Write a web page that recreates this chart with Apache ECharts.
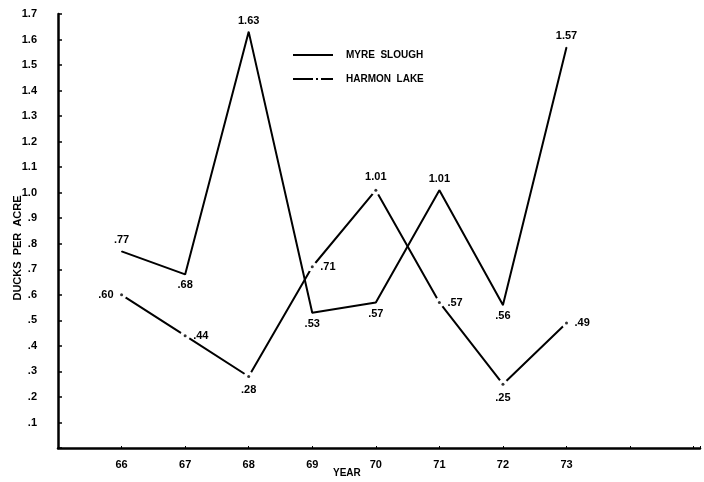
<!DOCTYPE html>
<html><head><meta charset="utf-8">
<script src="https://cdn.jsdelivr.net/npm/echarts@6/dist/echarts.min.js"></script>
<style>html,body{margin:0;padding:0;background:#fff}#c{width:704px;height:482px}</style>
</head><body><div id="c"></div>
<script>
var years = [66, 67, 68, 69, 70, 71, 72, 73];
var myreSlough = [0.77, 0.68, 1.63, 0.53, 0.57, 1.01, 0.56, 1.57];
var harmonLake = [0.60, 0.44, 0.28, 0.71, 1.01, 0.57, 0.25, 0.49];
var myreLabelText = ['.77', '.68', '1.63', '.53', '.57', '1.01', '.56', '1.57'];
var harmonLabelText = ['.60', '.44', '.28', '.71', '1.01', '.57', '.25', '.49'];
var yTickLabels = {1:'.1',2:'.2',3:'.3',4:'.4',5:'.5',6:'.6',7:'.7',8:'.8',9:'.9',10:'1.0',11:'1.1',12:'1.2',13:'1.3',14:'1.4',15:'1.5',16:'1.6',17:'1.7'};

var myreLabelPos = ['top','bottom','top','bottom','bottom','top','bottom','top'];
var harmonLabelPos = ['left','right','bottom','right','top','right','bottom','right'];

var FONT = 'Liberation Sans';
function pts(vals, texts, posArr){
  return years.map(function(y,i){
    return {value:[y, vals[i]], label:{position:posArr[i], formatter:texts[i]}};
  });
}
var chart = echarts.init(document.getElementById('c'));
chart.setOption({
  animation:false,
  backgroundColor:'#fff',
  textStyle:{fontFamily:FONT, fontWeight:'bold', color:'#000'},
  grid:{left:58, right:4, top:14, bottom:34},
  legend:{
    left:288, top:45, orient:'vertical', itemGap:14, itemWidth:40, itemHeight:2,
    textStyle:{fontFamily:FONT, fontWeight:'bold', fontSize:10, color:'#000', padding:[0,0,0,8]},
    data:[
      {name:'MYRE  SLOUGH', icon:'path://M0,0H40V2H0Z', itemStyle:{color:'#000'}},
      {name:'HARMON  LAKE', icon:'path://M0,0H20V2H0Z M23,0H25V2H23Z M28,0H40V2H28Z', itemStyle:{color:'#000'}}
    ]
  },
  xAxis:{
    type:'value', min:65, max:75.1, interval:1,
    axisLine:{show:true, lineStyle:{color:'#000', width:2.5}},
    axisTick:{show:true, inside:true, length:2, lineStyle:{color:'#000'}},
    splitLine:{show:false},
    axisLabel:{margin:11, fontSize:11, fontWeight:'bold', color:'#000', fontFamily:FONT,
      formatter:function(v){ return (v>=66 && v<=73) ? String(v) : ''; }}
  },
  yAxis:{
    type:'value', min:0, max:1.7, interval:0.1,
    axisLine:{show:true, lineStyle:{color:'#000', width:2.5}},
    axisTick:{show:true, inside:true, length:4, lineStyle:{color:'#000', width:1.5}},
    splitLine:{show:false},
    axisLabel:{margin:21, fontSize:11, fontWeight:'bold', color:'#000', fontFamily:FONT,
      formatter:function(v){ var k=Math.round(v*10); return yTickLabels[k]||''; }}
  },
  graphic:[
    {type:'text', left:333, top:468, style:{text:'YEAR', fontSize:10, fontWeight:'bold', fill:'#000', fontFamily:FONT}},
    {type:'text', x:18, y:248, rotation:Math.PI/2, style:{text:'DUCKS  PER  ACRE', fontSize:11, fontWeight:'bold', fill:'#000', fontFamily:FONT, align:'center', verticalAlign:'middle'}}
  ],
  series:[
    {
      name:'MYRE  SLOUGH', type:'line', data:pts(myreSlough, myreLabelText, myreLabelPos),
      lineStyle:{color:'#000', width:2}, itemStyle:{color:'#000'},
      symbol:'circle', symbolSize:1, showSymbol:true,
      label:{show:true, fontSize:11, fontWeight:'bold', color:'#000', fontFamily:FONT, distance:5},
      z:3
    },
    {
      name:'HARMON  LAKE', type:'line', data:pts(harmonLake, harmonLabelText, harmonLabelPos),
      lineStyle:{color:'#000', width:2}, itemStyle:{color:'#fff', borderWidth:0},
      symbol:'circle', symbolSize:10, showSymbol:true,
      label:{show:true, fontSize:11, fontWeight:'bold', color:'#000', fontFamily:FONT, distance:3},
      z:2
    },
    {
      name:'harmonDots', type:'scatter', data:years.map(function(y,i){return [y, harmonLake[i]];}),
      symbol:'circle', symbolSize:3, itemStyle:{color:'#000'}, silent:true, z:4
    }
  ]
});
</script></body></html>
